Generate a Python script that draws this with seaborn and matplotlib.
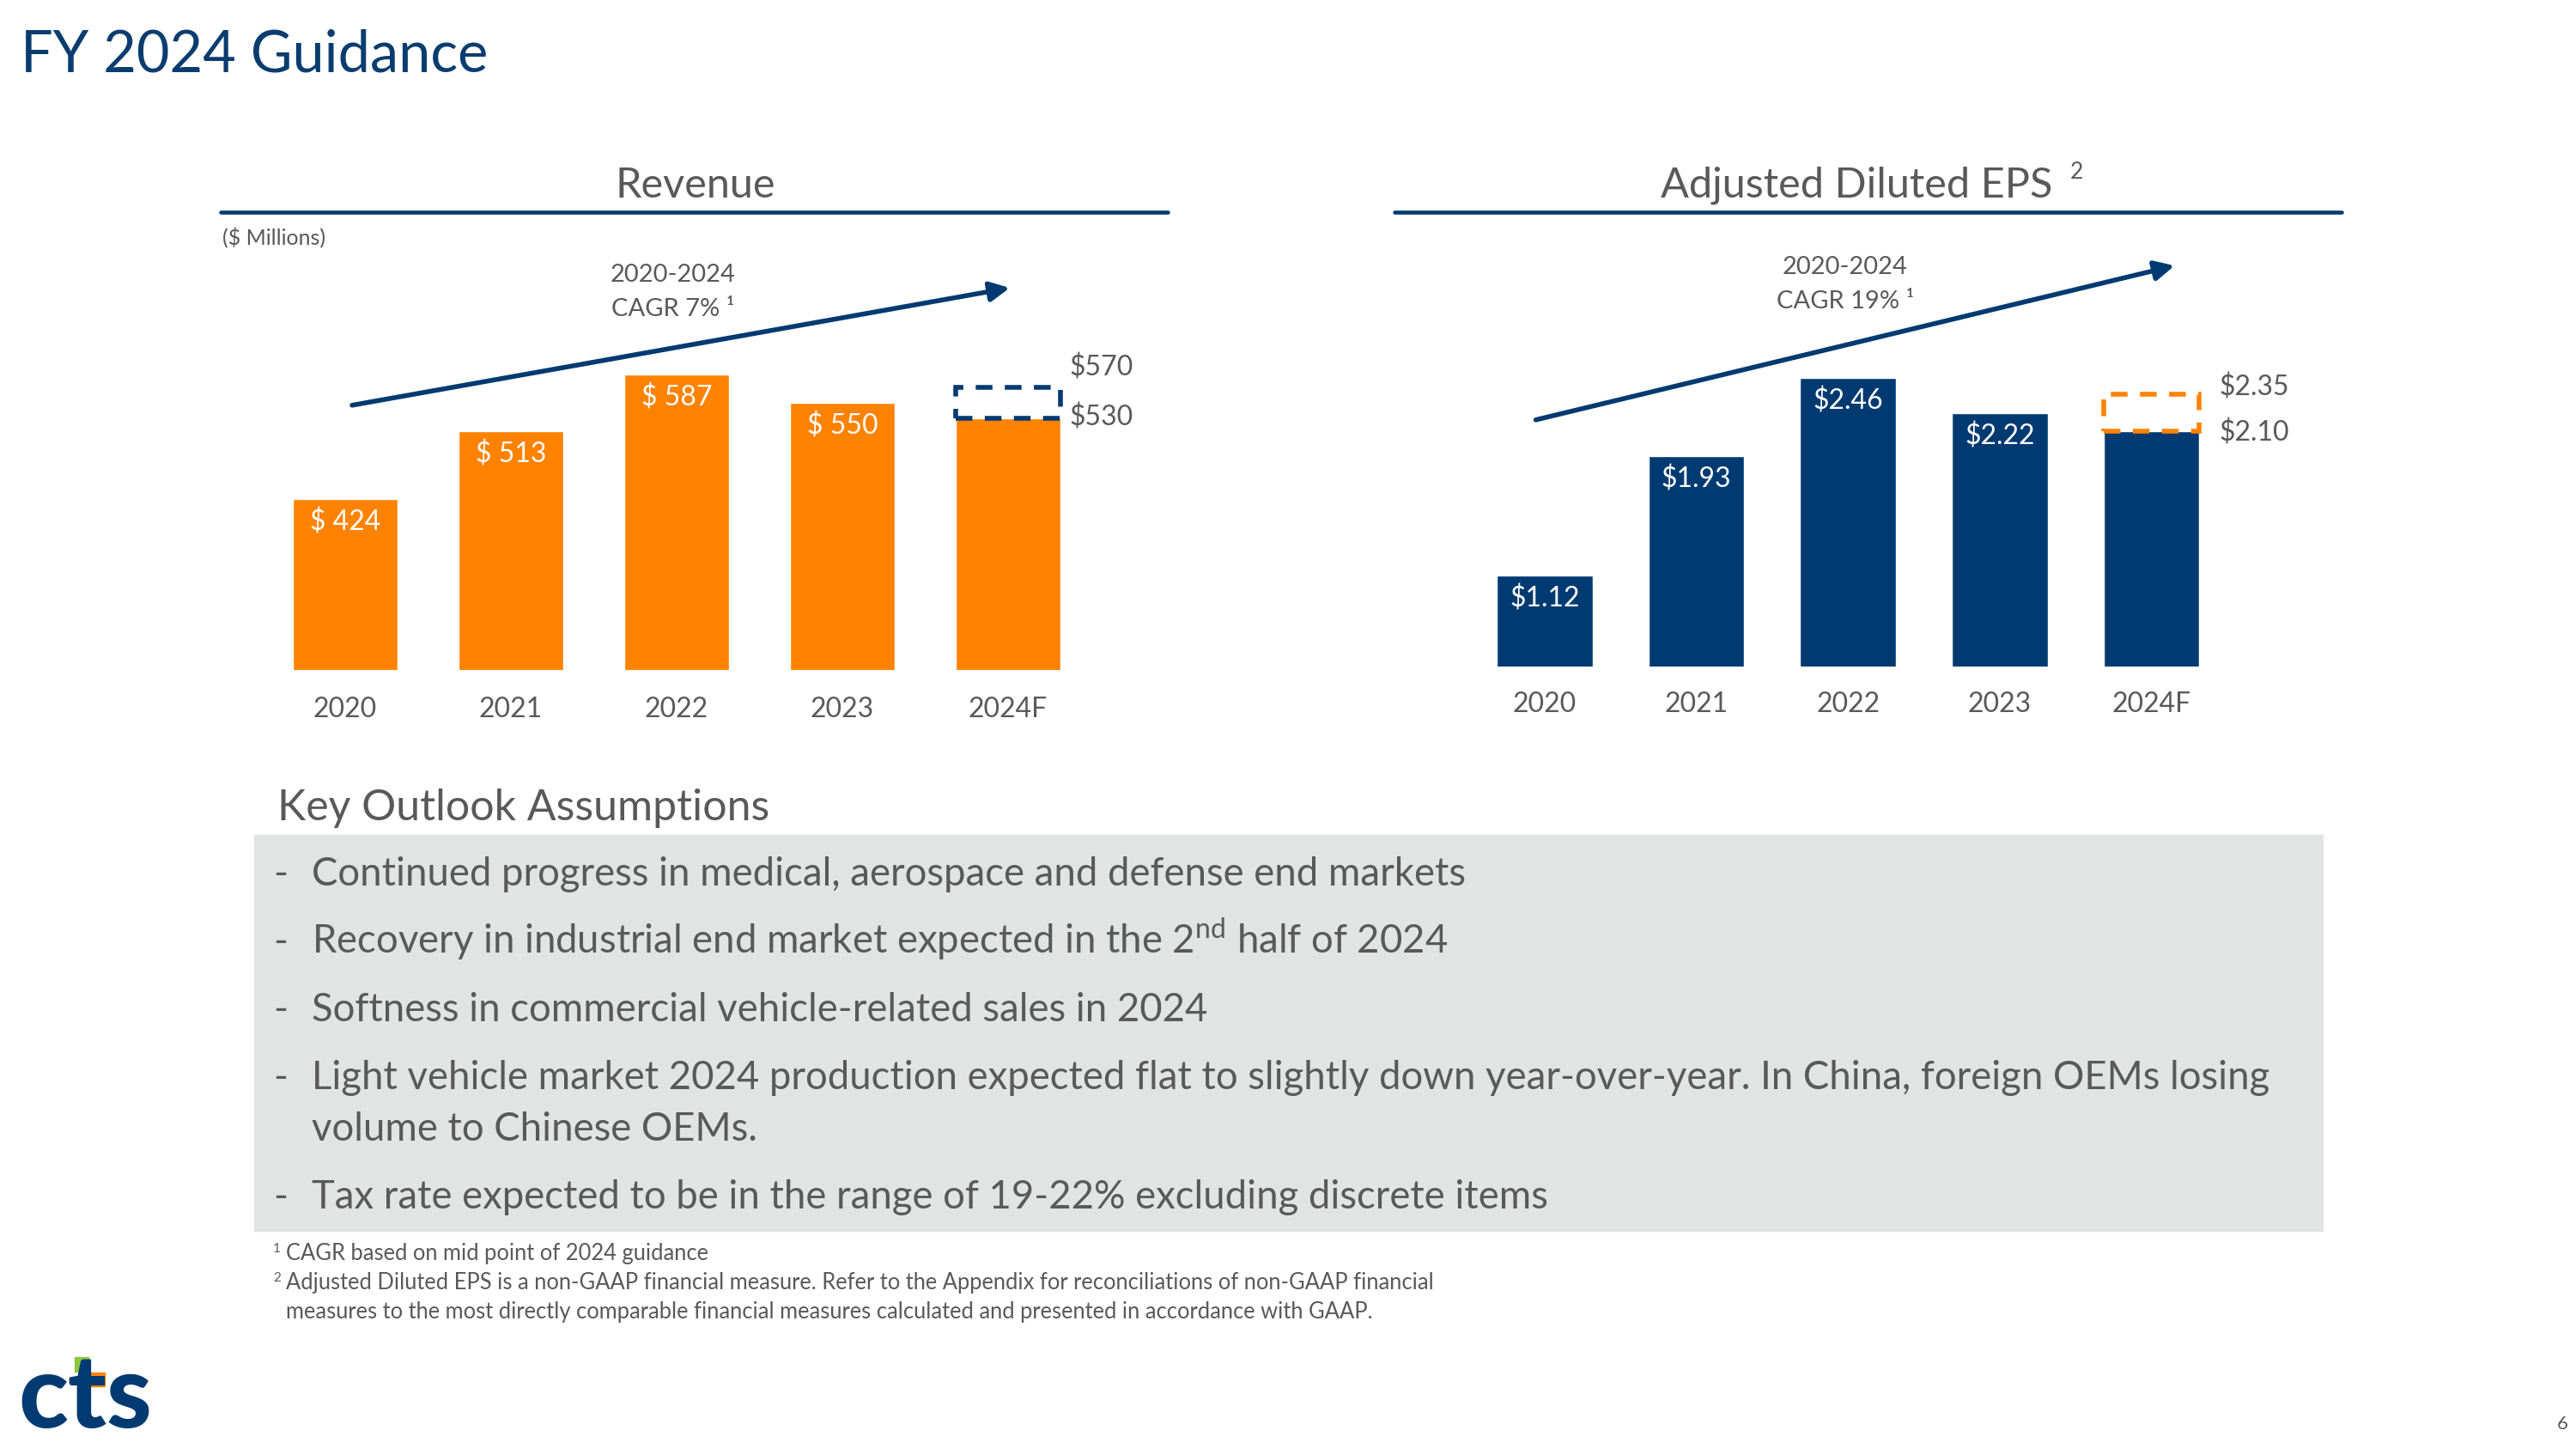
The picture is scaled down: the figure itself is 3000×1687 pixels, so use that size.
#Importing libraries
import numpy as np
import pandas as pd
import seaborn as sns
import matplotlib.pyplot as plt
from matplotlib.patches import Rectangle, FancyArrowPatch
from matplotlib.lines import Line2D

#Chart data
years = ["2020", "2021", "2022", "2023", "2024F"]
revenue = [424, 513, 587, 550, 530]
revenue_labels = ["$ 424", "$ 513", "$ 587", "$ 550", ""]
revenue_low, revenue_high = 530, 570
eps = [1.12, 1.93, 2.46, 2.22, 2.10]
eps_labels = ["$1.12", "$1.93", "$2.46", "$2.22", ""]
eps_low, eps_high = 2.10, 2.35

bullets = [
    ["Continued progress in medical, aerospace and defense end markets"],
    [r"Recovery in industrial end market expected in the 2$^{\mathrm{nd}}$ half of 2024"],
    ["Softness in commercial vehicle-related sales in 2024"],
    ["Light vehicle market 2024 production expected flat to slightly down year-over-year. In China, foreign OEMs losing",
     "volume to Chinese OEMs."],
    ["Tax rate expected to be in the range of 19-22% excluding discrete items"],
]
footnotes = [
    ("1", ["CAGR based on mid point of 2024 guidance"]),
    ("2", ["Adjusted Diluted EPS is a non-GAAP financial measure. Refer to the Appendix for reconciliations of non-GAAP financial",
           "measures to the most directly comparable financial measures calculated and presented in accordance with GAAP."]),
]

#Style
sns.set_theme(style="white")
plt.rcParams['font.family'] = ['Lato', 'DejaVu Sans']
plt.rcParams['mathtext.fontset'] = 'custom'
plt.rcParams['mathtext.rm'] = 'Lato'

NAVY = "#003A70"
TITLE_BLUE = "#0A3D6F"
ORANGE = "#FF8200"
GREY = "#595959"
BOX = "#E2E3E3"

W, H = 3000, 1687
def fx(x):
    return x / W
def fy(y):
    return 1 - y / H

fig = plt.figure(figsize=(30, 16.87), dpi=100)

#Page title
fig.text(fx(24), fy(84), "FY 2024 Guidance", fontsize=48, color=TITLE_BLUE, va='baseline')

#Panel headers
fig.text(fx(810), fy(230), "Revenue", fontsize=35, color=GREY, ha='center', va='baseline')
fig.text(fx(2162), fy(230), "Adjusted Diluted EPS", fontsize=35, color=GREY, ha='center', va='baseline')
fig.text(fx(2411), fy(208), "2", fontsize=19, color=GREY, ha='left', va='baseline')
fig.add_artist(Line2D([fx(257), fx(1360)], [fy(247), fy(247)], color=NAVY, lw=3.3, transform=fig.transFigure))
fig.add_artist(Line2D([fx(1624), fx(2727)], [fy(247), fy(247)], color=NAVY, lw=3.3, transform=fig.transFigure))
fig.text(fx(259), fy(276), "($ Millions)", fontsize=18, color=GREY, va='center')

#Revenue bars
ax1 = fig.add_axes([fx(305.4), fy(780), 965 / W, 480 / H])
sns.barplot(x=years, y=revenue, color=ORANGE, saturation=1, width=0.63, ax=ax1)
ax1.bar(4, revenue_high - revenue_low, bottom=revenue_low, width=0.63, fill=False,
        edgecolor=NAVY, linestyle=(0, (3.5, 2.6)), linewidth=4, zorder=5)
ax1.set_xlim(-0.5, 4.5)
ax1.set_ylim(200, 740.5)
for i, (v, lab) in enumerate(zip(revenue, revenue_labels)):
    ax1.annotate(lab, xy=(i, v), xytext=(0, -19.3), textcoords='offset points',
                 ha='center', va='center', color='white', fontsize=23)
ax1.annotate(f"${revenue_high}", xy=(4.315, revenue_high), xytext=(7.6, 16.8), textcoords='offset points',
             ha='left', va='center', color=GREY, fontsize=23)
ax1.annotate(f"${revenue_low}", xy=(4.315, revenue_low), xytext=(7.6, 0.7), textcoords='offset points',
             ha='left', va='center', color=GREY, fontsize=23)
ax1.tick_params(axis='x', length=0, pad=22.6, labelsize=23, labelcolor=GREY)

#EPS bars
ax2 = fig.add_axes([fx(1710.7), fy(776), 883 / W, 476 / H])
sns.barplot(x=years, y=eps, color=NAVY, saturation=1, width=0.631, ax=ax2)
ax2.bar(4, eps_high - eps_low, bottom=eps_low, width=0.631, fill=False,
        edgecolor=ORANGE, linestyle=(0, (3.5, 2.6)), linewidth=4, zorder=5)
ax2.set_xlim(-0.5, 4.5)
ax2.set_ylim(0.5, 3.279)
for i, (v, lab) in enumerate(zip(eps, eps_labels)):
    ax2.annotate(lab, xy=(i, v), xytext=(0, -19.3), textcoords='offset points',
                 ha='center', va='center', color='white', fontsize=23)
ax2.annotate(f"${eps_high:.2f}", xy=(4.3155, eps_high), xytext=(16.8, 5.6), textcoords='offset points',
             ha='left', va='center', color=GREY, fontsize=23)
ax2.annotate(f"${eps_low:.2f}", xy=(4.3155, eps_low), xytext=(16.8, -1.4), textcoords='offset points',
             ha='left', va='center', color=GREY, fontsize=23)
ax2.tick_params(axis='x', length=0, pad=20.7, labelsize=23, labelcolor=GREY)

for ax in (ax1, ax2):
    ax.set_yticks([])
    ax.set_xlabel("")
    ax.set_ylabel("")
    ax.patch.set_alpha(0)
    sns.despine(ax=ax, left=True, bottom=True)

#CAGR arrows
for (x0, y0, x1, y1) in [(410, 471.8, 1176, 335.2), (1788.6, 488.8, 2532.5, 309.3)]:
    fig.add_artist(FancyArrowPatch((fx(x0), fy(y0)), (fx(x1), fy(y1)), transform=fig.transFigure,
                                   arrowstyle='-|>', mutation_scale=34, lw=4, color=NAVY,
                                   shrinkA=0, shrinkB=0))
fig.text(fx(784), fy(320), "2020-2024", fontsize=21, color=GREY, ha='center', va='center')
fig.text(fx(784), fy(360), "CAGR 7% ¹", fontsize=21, color=GREY, ha='center', va='center')
fig.text(fx(2149), fy(311), "2020-2024", fontsize=21, color=GREY, ha='center', va='center')
fig.text(fx(2149), fy(351), "CAGR 19% ¹", fontsize=21, color=GREY, ha='center', va='center')

#Key outlook assumptions
fig.text(fx(323), fy(955), "Key Outlook Assumptions", fontsize=36, color=GREY, va='baseline')
fig.add_artist(Rectangle((fx(296), fy(1433)), fx(2705) - fx(296), fy(972) - fy(1433),
                         transform=fig.transFigure, color=BOX, zorder=0))
y = 1031
for lines in bullets:
    fig.text(fx(318), fy(y), "-", fontsize=33, color=GREY, va='baseline')
    for line in lines:
        fig.text(fx(363), fy(y), line, fontsize=32.8, color=GREY, va='baseline')
        y += 60
    y += 19

#Footnotes
y = 1467
for mark, lines in footnotes:
    fig.text(fx(318), fy(y - 9), mark, fontsize=11, color=GREY, va='baseline')
    for line in lines:
        fig.text(fx(333), fy(y), line, fontsize=18.4, color=GREY, va='baseline')
        y += 34

#Logo and page number
fig.text(fx(21), fy(1662), "cts", fontsize=86, color=NAVY, va='baseline', fontweight='black')
fig.add_artist(Rectangle((fx(87), fy(1597)), 16 / W, 17 / H, transform=fig.transFigure, color="#8DC63F"))
fig.add_artist(Rectangle((fx(103), fy(1614)), 19 / W, 16 / H, transform=fig.transFigure, color=ORANGE))
fig.text(fx(2984), fy(1658), "6", fontsize=16, color=GREY, ha='center', va='center')

fig.savefig('out.png', dpi=100)
